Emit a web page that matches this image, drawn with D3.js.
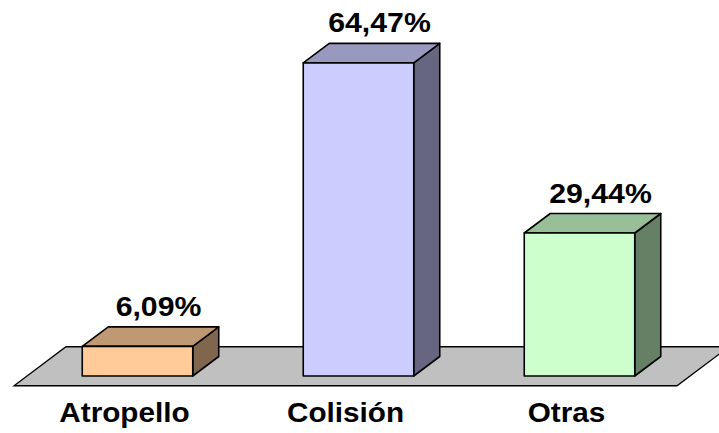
<!DOCTYPE html>
<html>
<head>
<meta charset="utf-8">
<script src="https://cdn.jsdelivr.net/npm/d3@7"></script>
<style>
  html, body { margin: 0; padding: 0; background: #fff; }
  svg { display: block; }
</style>
</head>
<body>
<div class="chart--container"></div>
<script>
// chart data
let categories = ['Atropello', 'Colisión', 'Otras'],
    values = [6.09, 64.47, 29.44];

// palette (front face per bar; top and side are shades of it)
let fronts = ['#FFCC99', '#CCCCFF', '#CCFFCC'];

let width = 719,
    height = 433,
    depth = {x: 52, y: -39},               // full floor depth vector
    fmt = v => d3.format('.2f')(v).replace('.', ',') + '%',
    shade = (c, k) => { let r = d3.rgb(c); return d3.rgb(r.r * k, r.g * k, r.b * k).formatHex(); };

let svg = d3.select('.chart--container')
            .append('svg')
            .attr('width', width)
            .attr('height', height);

// scales in the plane of the bars' front faces
let scale_x = d3.scaleBand()
                .domain(categories)
                .range([27, 690])
                .paddingInner(0.5)
                .paddingOuter(0.25),
    scale_y = d3.scaleLinear()
                .domain([0, 70])
                .range([376, 36]);

let off = t => ({x: depth.x * t, y: depth.y * t}),
    pt = (x, y, t) => [x + off(t).x, y + off(t).y],
    line = d3.line();

// floor, from -0.25 to 0.75 of the depth
let x0 = scale_x.range()[0], x1 = scale_x.range()[1], y0 = scale_y(0);
svg.append('path')
    .attr('d', line([pt(x0, y0, -0.25), pt(x1, y0, -0.25), pt(x1, y0, 0.75), pt(x0, y0, 0.75)]) + 'Z')
    .attr('fill', '#C0C0C0')
    .attr('stroke', '#000')
    .attr('stroke-width', 1.3);

// bars (depth 0 .. 0.5)
let bars = svg.selectAll('g.bar')
    .data(categories)
    .enter()
    .append('g')
    .attr('class', 'bar');

bars.each(function(c, i) {
    let g = d3.select(this),
        l = scale_x(c),
        r = l + scale_x.bandwidth(),
        t = scale_y(values[i]),
        b = scale_y(0),
        d = 0.5;

    // side face
    g.append('path')
        .attr('d', line([[r, t], pt(r, t, d), pt(r, b, d), [r, b]]) + 'Z')
        .attr('fill', shade(fronts[i], 0.5));
    // top face
    g.append('path')
        .attr('d', line([[l, t], pt(l, t, d), pt(r, t, d), [r, t]]) + 'Z')
        .attr('fill', shade(fronts[i], 0.75));
    // front face
    g.append('rect')
        .attr('x', l)
        .attr('y', t)
        .attr('width', r - l)
        .attr('height', b - t)
        .attr('fill', fronts[i]);

    g.selectAll('path, rect')
        .attr('stroke', '#000')
        .attr('stroke-width', 1.6)
        .attr('stroke-linejoin', 'round');

    // value label (glyphs a bit wider than Liberation's)
    g.append('text')
        .attr('transform', `translate(${l + scale_x.bandwidth() / 2 + 21}, ${t + off(d).y - 11}) scale(1.08, 1)`)
        .attr('text-anchor', 'middle')
        .attr('font-family', 'Liberation Sans, Arial, sans-serif')
        .attr('font-weight', 'bold')
        .attr('font-size', 28)
        .text(fmt(values[i]));
});

// category labels along the floor front edge
svg.selectAll('text.cat')
    .data(categories)
    .enter()
    .append('text')
    .attr('class', 'cat')
    .attr('transform', c => `translate(${scale_x(c) + scale_x.bandwidth() / 2 + off(-0.25).x}, 422) scale(1.1, 1)`)
    .attr('text-anchor', 'middle')
    .attr('font-family', 'Liberation Sans, Arial, sans-serif')
    .attr('font-weight', 'bold')
    .attr('font-size', 27)
    .text(c => c);
</script>
</body>
</html>
